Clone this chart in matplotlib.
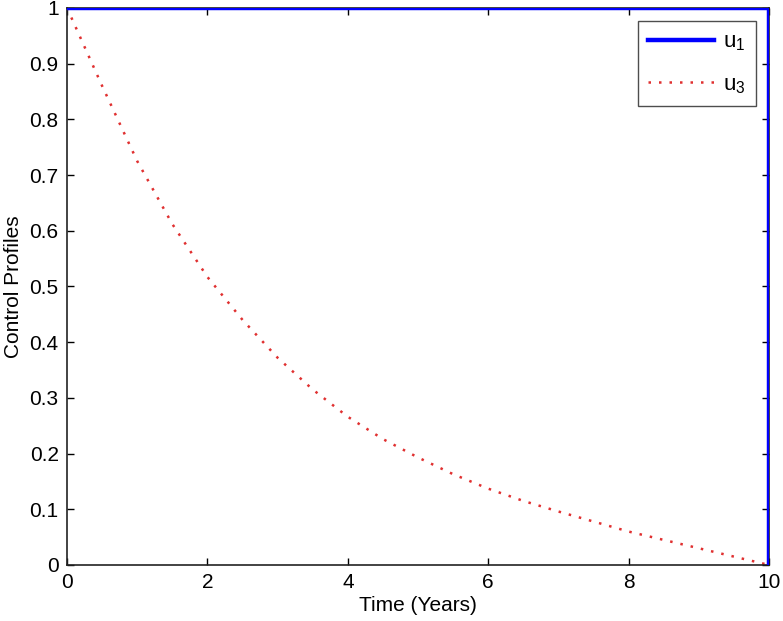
import numpy as np
import matplotlib
matplotlib.use('Agg')
import matplotlib.pyplot as plt

plt.rcParams['font.family'] = ['Liberation Sans', 'DejaVu Sans']
plt.rcParams['mathtext.default'] = 'regular'

# values
t_u1 = [0, 10, 10]
u1 = [1, 1, 0]

t_u3 = [0, 0.5, 1, 1.5, 2, 2.5, 3, 3.5, 4, 4.5, 5, 5.5, 6, 6.5, 7, 7.5, 8, 8.5, 9, 9.5, 10]
u3 = [1.0, 0.86, 0.725, 0.612, 0.517, 0.44, 0.372, 0.315, 0.266, 0.226, 0.193, 0.163,
      0.137, 0.115, 0.096, 0.078, 0.060, 0.045, 0.030, 0.015, 0.0]

fig = plt.figure(figsize=(7.83, 6.21), dpi=100)
ax = fig.add_axes([0.0856, 0.0902, 0.8966, 0.897])

ax.plot(t_u1, u1, color='#0000ff', linewidth=3.2, label='u$_1$', zorder=3)
ax.plot(t_u3, u3, color='#e03030', linestyle=(0, (1, 3.2)), linewidth=1.8, label='u$_3$', zorder=2)

ax.set_xlim(0, 10)
ax.set_ylim(0, 1)
ax.set_xticks(np.arange(0, 11, 2))
ax.set_yticks(np.arange(0, 1.01, 0.1))
ax.set_yticklabels(['0', '0.1', '0.2', '0.3', '0.4', '0.5', '0.6', '0.7', '0.8', '0.9', '1'])
ax.tick_params(direction='in', top=True, right=True, length=5, width=1, labelsize=15, pad=6)
for s in ax.spines.values():
    s.set_linewidth(1.2)
    s.set_color('#222222')

ax.set_xlabel('Time (Years)', fontsize=15, labelpad=3)
ax.set_ylabel('Control Profiles', fontsize=15, labelpad=5)

leg = ax.legend(loc='upper right', fontsize=16, fancybox=False, edgecolor='#222222',
                handlelength=3.0, handletextpad=0.4, borderaxespad=0.6, labelspacing=0.95,
                borderpad=0.45)
leg.get_frame().set_linewidth(1.0)

fig.savefig('out.png', dpi=100)
